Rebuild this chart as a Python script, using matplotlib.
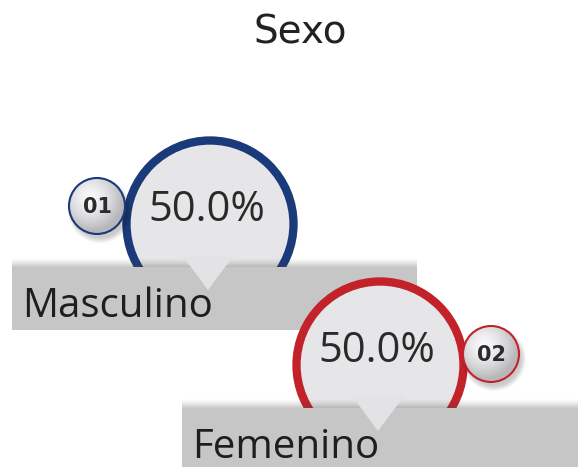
import numpy as np
import matplotlib.pyplot as plt
from matplotlib.patches import Circle, Rectangle, Polygon

# datos
titulo = "Sexo"
categorias = ["Masculino", "Femenino"]
porcentajes = [50.0, 50.0]
numeros = ["01", "02"]
colores = ["#1b3a7a", "#c3222b"]

# posiciones de cada bloque (pixeles)
circ_x = [210, 380]
circ_y = [224, 365]
radio = 83.5
barra_x = [12, 182]
barra_ancho = [405, 396]
barra_y = [267, 408]
barra_alto = [63, 60]
badge_x = [97, 491]
badge_y = [206, 354]
badge_r = 28

fig = plt.figure(figsize=(5.78, 4.67), dpi=100)
ax = fig.add_axes([0, 0, 1, 1])
ax.set_xlim(0, 578)
ax.set_ylim(467, 0)
ax.axis('off')

ax.text(300, 33, titulo, ha='center', va='center', fontsize=28,
        family='DejaVu Sans', color='#222222')

# gradiente radial para los numeros
n = 80
yy, xx = np.mgrid[-1:1:n * 1j, -1:1:n * 1j]
d = np.sqrt((xx + 0.25) ** 2 + (yy + 0.3) ** 2)
v = np.clip(0.98 - 0.2 * d ** 1.5, 0.72, 1)
grad_badge = np.dstack([v, v, v * 1.01])
grad_badge = np.clip(grad_badge, 0, 1)

for i in range(len(categorias)):
    z = 10 * i
    cx, cy = circ_x[i], circ_y[i]

    # circulo grande
    ax.add_patch(Circle((cx, cy), radio, facecolor='#e6e6e8',
                        edgecolor=colores[i], linewidth=6, zorder=z + 1))
    ax.text(cx - 3, cy - 14, f"{porcentajes[i]:.1f}%", ha='center', va='center',
            fontsize=30, family='Open Sans', color='#2a2a2a', zorder=z + 2)

    # sombra sobre la barra
    bx, by = barra_x[i], barra_y[i]
    grad = np.zeros((20, 2, 4))
    grad[..., :3] = 0.3
    grad[..., 3] = np.linspace(0, 0.3, 20)[:, None] ** 1.5 / 0.3 ** 0.5
    ax.imshow(grad, extent=(bx, bx + barra_ancho[i], by, by - 10),
              aspect='auto', interpolation='bilinear', zorder=z + 3)

    # barra gris
    ax.add_patch(Rectangle((bx, by), barra_ancho[i], barra_alto[i],
                           facecolor='#c6c6c6', edgecolor='none', zorder=z + 4))

    # triangulo
    tx = cx - 2
    ax.add_patch(Polygon([(tx - 26, by - 12), (tx + 26, by - 12), (tx, by + 23)],
                         closed=True, facecolor='#e3e3e5', edgecolor='none',
                         zorder=z + 5))

    ax.text(bx + 10, by + 50, categorias[i], ha='left', va='baseline',
            fontsize=29, family='Open Sans', color='#1e1e1e', zorder=z + 6)

    # numero
    ux, uy = badge_x[i], badge_y[i]
    for k in range(6):
        ax.add_patch(Circle((ux + 3, uy + 5), badge_r + 4 - k,
                            facecolor='#000000', alpha=0.035, edgecolor='none',
                            zorder=z + 6))
    borde = Circle((ux, uy), badge_r, facecolor='none',
                   edgecolor=colores[i], linewidth=1.5, zorder=z + 8)
    fondo = Circle((ux, uy), badge_r, facecolor='none', edgecolor='none',
                   zorder=z + 7)
    ax.add_patch(fondo)
    im = ax.imshow(grad_badge, extent=(ux - badge_r, ux + badge_r,
                                       uy + badge_r, uy - badge_r),
                   interpolation='bilinear', zorder=z + 7)
    im.set_clip_path(fondo)
    ax.add_patch(borde)
    ax.text(ux, uy + 1, numeros[i], ha='center', va='center', fontsize=15,
            fontweight='bold', family='DejaVu Sans Condensed', color='#2b2b2b',
            zorder=z + 9)

ax.set_xlim(0, 578)
ax.set_ylim(467, 0)
fig.savefig("out.png", dpi=100)
